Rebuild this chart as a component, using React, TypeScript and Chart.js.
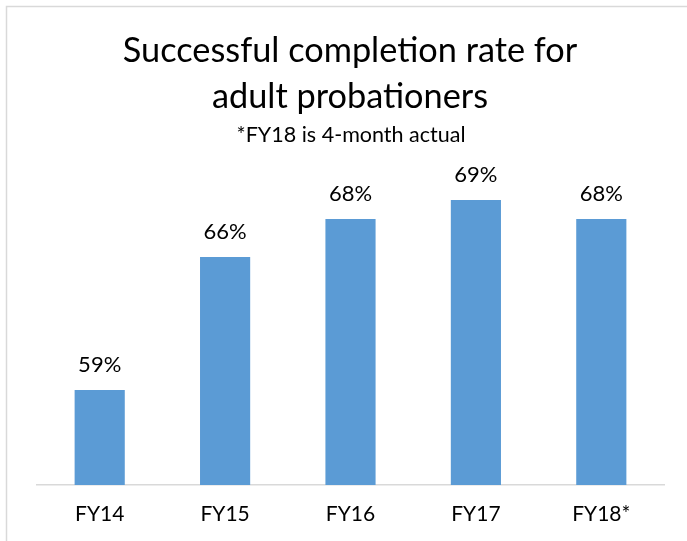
import React, { useEffect, useRef } from "react";
import { Chart, registerables } from "chart.js";

Chart.register(...registerables);

const categories = ["FY14", "FY15", "FY16", "FY17", "FY18*"];
const completionRate = [0.59, 0.66, 0.68, 0.69, 0.68];
const titleLines = ["Successful completion rate for", "adult probationers"];
const subtitleText = "*FY18 is 4-month actual";

const FONT = "Lato, 'Open Sans', sans-serif";

const framePlugin = {
  id: "frameAndTitles",
  beforeDraw(chart: any) {
    const ctx = chart.ctx;
    ctx.save();
    ctx.fillStyle = "#ffffff";
    ctx.fillRect(0, 0, chart.width, chart.height);
    ctx.strokeStyle = "#D9D9D9";
    ctx.lineWidth = 1.5;
    ctx.strokeRect(6.5, 6.5, chart.width + 20, chart.height + 20);
    ctx.restore();
  },
  afterDraw(chart: any) {
    const ctx = chart.ctx;
    const cx = 350;
    ctx.save();
    ctx.fillStyle = "#000000";
    ctx.textAlign = "center";
    ctx.textBaseline = "alphabetic";
    ctx.font = `34.3px ${FONT}`;
    ctx.fillText(titleLines[0], cx, 62);
    ctx.fillText(titleLines[1], cx, 108);
    ctx.font = `21.5px ${FONT}`;
    ctx.fillText(subtitleText, cx + 1, 141.5);

    // data labels
    ctx.font = `22px ${FONT}`;
    const meta = chart.getDatasetMeta(0);
    meta.data.forEach((bar: any, i: number) => {
      const v = completionRate[i];
      ctx.fillText(`${Math.round(v * 100)}%`, bar.x, bar.y - 18);
    });
    ctx.restore();
  },
};

export default function App() {
  const canvasRef = useRef<HTMLCanvasElement | null>(null);

  useEffect(() => {
    document.body.style.margin = "0";
    const canvas = canvasRef.current;
    if (!canvas) return;
    const chart = new Chart(canvas, {
      type: "bar",
      data: {
        labels: categories,
        datasets: [
          {
            data: completionRate,
            backgroundColor: "#5B9BD5",
            borderWidth: 0,
            barPercentage: 0.4,
            categoryPercentage: 1,
          },
        ],
      },
      options: {
        animation: false,
        responsive: false,
        devicePixelRatio: 1,
        layout: { padding: { top: 181, left: 37, right: 23, bottom: 0 } },
        plugins: {
          legend: { display: false },
          title: { display: false },
          tooltip: { enabled: false },
        },
        scales: {
          x: {
            grid: { display: false, drawTicks: false },
            border: { display: true, color: "#D9D9D9", width: 1.5 },
            ticks: {
              color: "#000000",
              font: { family: FONT, size: 21 },
              padding: 17,
            },
            afterFit(scale: any) {
              scale.height = 56;
            },
          },
          y: {
            display: false,
            min: 0.54,
            max: 0.7,
          },
        },
      },
      plugins: [framePlugin],
    });
    return () => chart.destroy();
  }, []);

  return (
    <div style={{ width: 687, height: 541 }}>
      <canvas ref={canvasRef} width={687} height={541} />
    </div>
  );
}
